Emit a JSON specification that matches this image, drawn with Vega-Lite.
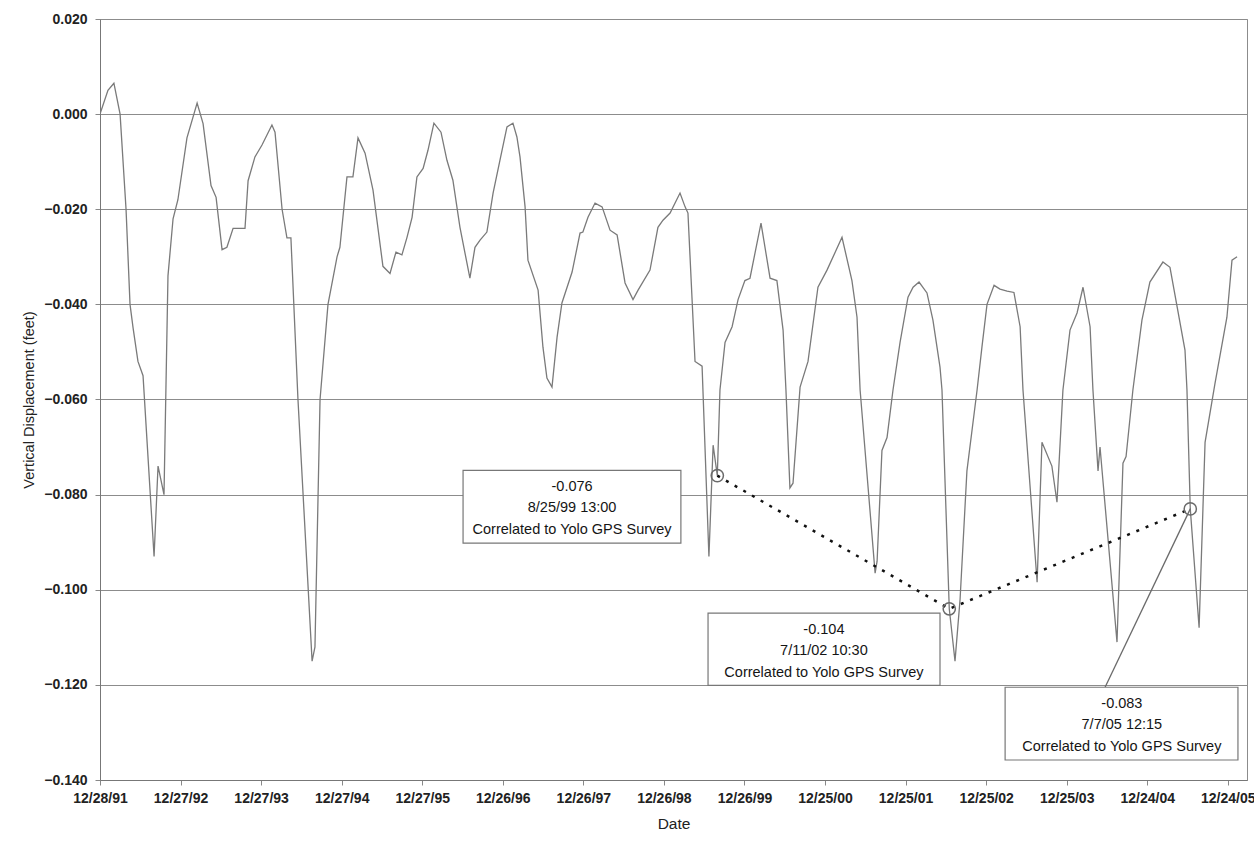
{
  "$schema": "https://vega.github.io/schema/vega-lite/v6.json",
  "width": 1147,
  "height": 761,
  "autosize": {"type": "none"},
  "padding": {"left": 100, "top": 19, "right": 7, "bottom": 61},
  "background": "white",
  "config": {
    "font": "Liberation Sans",
    "view": {"stroke": "#8c8c8c", "strokeWidth": 1}
  },
  "datasets": {
    "main": [
      {"d": "1991-12-28", "v": 0.000},
      {"d": "1992-02-02", "v": 0.005},
      {"d": "1992-02-29", "v": 0.0065},
      {"d": "1992-03-28", "v": 0.000},
      {"d": "1992-04-24", "v": -0.020},
      {"d": "1992-05-12", "v": -0.040},
      {"d": "1992-05-26", "v": -0.045},
      {"d": "1992-06-17", "v": -0.052},
      {"d": "1992-07-10", "v": -0.055},
      {"d": "1992-08-29", "v": -0.093},
      {"d": "1992-09-16", "v": -0.074},
      {"d": "1992-10-13", "v": -0.080},
      {"d": "1992-10-31", "v": -0.034},
      {"d": "1992-11-23", "v": -0.022},
      {"d": "1992-12-15", "v": -0.018},
      {"d": "1993-01-25", "v": -0.005},
      {"d": "1993-03-12", "v": 0.0023},
      {"d": "1993-04-08", "v": -0.002},
      {"d": "1993-05-14", "v": -0.015},
      {"d": "1993-06-06", "v": -0.0175},
      {"d": "1993-07-03", "v": -0.0285},
      {"d": "1993-07-25", "v": -0.028},
      {"d": "1993-08-22", "v": -0.024},
      {"d": "1993-10-15", "v": -0.024},
      {"d": "1993-10-29", "v": -0.014},
      {"d": "1993-11-29", "v": -0.009},
      {"d": "1993-12-31", "v": -0.0065},
      {"d": "1994-02-14", "v": -0.0023},
      {"d": "1994-02-28", "v": -0.0038},
      {"d": "1994-04-01", "v": -0.020},
      {"d": "1994-04-23", "v": -0.026},
      {"d": "1994-05-11", "v": -0.026},
      {"d": "1994-06-12", "v": -0.060},
      {"d": "1994-08-15", "v": -0.115},
      {"d": "1994-08-28", "v": -0.112},
      {"d": "1994-09-20", "v": -0.060},
      {"d": "1994-10-26", "v": -0.040},
      {"d": "1994-12-06", "v": -0.030},
      {"d": "1994-12-19", "v": -0.028},
      {"d": "1995-01-20", "v": -0.0132},
      {"d": "1995-02-16", "v": -0.0132},
      {"d": "1995-03-11", "v": -0.005},
      {"d": "1995-04-12", "v": -0.0082},
      {"d": "1995-05-18", "v": -0.016},
      {"d": "1995-07-02", "v": -0.032},
      {"d": "1995-08-03", "v": -0.0335},
      {"d": "1995-08-30", "v": -0.029},
      {"d": "1995-09-26", "v": -0.0296},
      {"d": "1995-10-19", "v": -0.0259},
      {"d": "1995-11-11", "v": -0.0217},
      {"d": "1995-12-03", "v": -0.0132},
      {"d": "1995-12-31", "v": -0.0114},
      {"d": "1996-01-22", "v": -0.0076},
      {"d": "1996-02-18", "v": -0.0019},
      {"d": "1996-03-21", "v": -0.0038},
      {"d": "1996-04-17", "v": -0.0097},
      {"d": "1996-05-14", "v": -0.0139},
      {"d": "1996-06-15", "v": -0.0238},
      {"d": "1996-07-30", "v": -0.0345},
      {"d": "1996-08-22", "v": -0.028},
      {"d": "1996-09-14", "v": -0.0265},
      {"d": "1996-10-15", "v": -0.0248},
      {"d": "1996-11-12", "v": -0.0166},
      {"d": "1996-12-13", "v": -0.0097},
      {"d": "1997-01-14", "v": -0.0027},
      {"d": "1997-02-10", "v": -0.0019},
      {"d": "1997-02-28", "v": -0.0048},
      {"d": "1997-03-14", "v": -0.009},
      {"d": "1997-04-06", "v": -0.0195},
      {"d": "1997-04-19", "v": -0.0307},
      {"d": "1997-06-04", "v": -0.037},
      {"d": "1997-06-26", "v": -0.049},
      {"d": "1997-07-14", "v": -0.0555},
      {"d": "1997-08-06", "v": -0.0574},
      {"d": "1997-08-29", "v": -0.0469},
      {"d": "1997-09-20", "v": -0.0397},
      {"d": "1997-11-05", "v": -0.0332},
      {"d": "1997-12-11", "v": -0.025},
      {"d": "1997-12-24", "v": -0.0248},
      {"d": "1998-01-16", "v": -0.0217},
      {"d": "1998-02-17", "v": -0.0187},
      {"d": "1998-03-21", "v": -0.0195},
      {"d": "1998-04-26", "v": -0.0244},
      {"d": "1998-05-28", "v": -0.0254},
      {"d": "1998-07-03", "v": -0.0355},
      {"d": "1998-08-08", "v": -0.039},
      {"d": "1998-08-31", "v": -0.037},
      {"d": "1998-10-24", "v": -0.0328},
      {"d": "1998-11-29", "v": -0.0238},
      {"d": "1998-12-22", "v": -0.0223},
      {"d": "1999-01-23", "v": -0.0208},
      {"d": "1999-03-09", "v": -0.0166},
      {"d": "1999-04-01", "v": -0.0195},
      {"d": "1999-04-14", "v": -0.0208},
      {"d": "1999-05-16", "v": -0.052},
      {"d": "1999-06-17", "v": -0.053},
      {"d": "1999-07-18", "v": -0.093},
      {"d": "1999-08-06", "v": -0.0696},
      {"d": "1999-08-25", "v": -0.076},
      {"d": "1999-09-06", "v": -0.058},
      {"d": "1999-09-29", "v": -0.048},
      {"d": "1999-10-31", "v": -0.0447},
      {"d": "1999-11-27", "v": -0.039},
      {"d": "1999-12-28", "v": -0.035},
      {"d": "2000-01-20", "v": -0.0345},
      {"d": "2000-03-10", "v": -0.0229},
      {"d": "2000-04-20", "v": -0.0345},
      {"d": "2000-05-21", "v": -0.035},
      {"d": "2000-06-18", "v": -0.0454},
      {"d": "2000-07-01", "v": -0.058},
      {"d": "2000-07-19", "v": -0.0786},
      {"d": "2000-08-02", "v": -0.0776},
      {"d": "2000-09-03", "v": -0.0574},
      {"d": "2000-10-09", "v": -0.052},
      {"d": "2000-11-23", "v": -0.0364},
      {"d": "2001-01-03", "v": -0.0328},
      {"d": "2001-03-12", "v": -0.0259},
      {"d": "2001-04-26", "v": -0.035},
      {"d": "2001-05-19", "v": -0.0427},
      {"d": "2001-06-02", "v": -0.058},
      {"d": "2001-08-09", "v": -0.0965},
      {"d": "2001-08-18", "v": -0.094},
      {"d": "2001-09-09", "v": -0.0707},
      {"d": "2001-10-02", "v": -0.068},
      {"d": "2001-10-29", "v": -0.058},
      {"d": "2001-11-30", "v": -0.048},
      {"d": "2002-01-05", "v": -0.0385},
      {"d": "2002-01-28", "v": -0.0364},
      {"d": "2002-02-24", "v": -0.0353},
      {"d": "2002-04-01", "v": -0.0376},
      {"d": "2002-04-28", "v": -0.0433},
      {"d": "2002-05-30", "v": -0.0532},
      {"d": "2002-06-08", "v": -0.058},
      {"d": "2002-07-11", "v": -0.104},
      {"d": "2002-08-06", "v": -0.115},
      {"d": "2002-08-29", "v": -0.102},
      {"d": "2002-09-29", "v": -0.075},
      {"d": "2002-11-14", "v": -0.058},
      {"d": "2002-12-06", "v": -0.049},
      {"d": "2002-12-29", "v": -0.040},
      {"d": "2003-01-30", "v": -0.036},
      {"d": "2003-02-26", "v": -0.0368},
      {"d": "2003-03-30", "v": -0.0372},
      {"d": "2003-04-30", "v": -0.0375},
      {"d": "2003-05-28", "v": -0.0447},
      {"d": "2003-06-10", "v": -0.058},
      {"d": "2003-08-13", "v": -0.0984},
      {"d": "2003-09-04", "v": -0.069},
      {"d": "2003-10-19", "v": -0.074},
      {"d": "2003-11-11", "v": -0.0816},
      {"d": "2003-12-08", "v": -0.058},
      {"d": "2004-01-09", "v": -0.0454},
      {"d": "2004-02-10", "v": -0.0418},
      {"d": "2004-03-08", "v": -0.0364},
      {"d": "2004-04-09", "v": -0.0447},
      {"d": "2004-04-22", "v": -0.058},
      {"d": "2004-05-15", "v": -0.075},
      {"d": "2004-05-24", "v": -0.070},
      {"d": "2004-08-09", "v": -0.111},
      {"d": "2004-09-05", "v": -0.0734},
      {"d": "2004-09-19", "v": -0.072},
      {"d": "2004-10-20", "v": -0.058},
      {"d": "2004-11-30", "v": -0.0433},
      {"d": "2005-01-05", "v": -0.0353},
      {"d": "2005-03-05", "v": -0.0311},
      {"d": "2005-04-06", "v": -0.0322},
      {"d": "2005-06-13", "v": -0.0496},
      {"d": "2005-06-22", "v": -0.058},
      {"d": "2005-07-07", "v": -0.083},
      {"d": "2005-08-16", "v": -0.108},
      {"d": "2005-09-12", "v": -0.069},
      {"d": "2005-10-27", "v": -0.0566},
      {"d": "2005-12-20", "v": -0.0427},
      {"d": "2006-01-12", "v": -0.0307},
      {"d": "2006-02-04", "v": -0.030}
    ],
    "pts": [
      {"d": "1999-08-25", "v": -0.076},
      {"d": "2002-07-11", "v": -0.104},
      {"d": "2005-07-07", "v": -0.083}
    ],
    "boxes": [
      {"d": "1996-06-29", "d2": "1999-03-13", "v": -0.0749, "v2": -0.0902},
      {"d": "1999-07-14", "d2": "2002-05-30", "v": -0.1049, "v2": -0.1201},
      {"d": "2003-03-21", "d2": "2006-02-08", "v": -0.1205, "v2": -0.1358}
    ],
    "notes": [
      {"d": "1997-11-05", "v": -0.0826, "t": "-0.076\n8/25/99 13:00\nCorrelated to Yolo GPS Survey"},
      {"d": "2000-12-20", "v": -0.1126, "t": "-0.104\n7/11/02 10:30\nCorrelated to Yolo GPS Survey"},
      {"d": "2004-08-31", "v": -0.1282, "t": "-0.083\n7/7/05 12:15\nCorrelated to Yolo GPS Survey"}
    ],
    "leader": [
      {"d": "2005-07-07", "v": -0.083, "d2": "2004-06-16", "v2": -0.1205}
    ]
  },
  "encoding": {
    "x": {
      "field": "d",
      "type": "temporal",
      "scale": {
        "type": "utc",
        "domain": [
          {"year": 1991, "month": 12, "date": 28, "utc": true},
          {"year": 2006, "month": 3, "date": 21, "utc": true}
        ],
        "nice": false
      },
      "axis": {
        "title": "Date",
        "values": [
          {"year": 1991, "month": 12, "date": 28, "utc": true},
          {"year": 1992, "month": 12, "date": 27, "utc": true},
          {"year": 1993, "month": 12, "date": 27, "utc": true},
          {"year": 1994, "month": 12, "date": 27, "utc": true},
          {"year": 1995, "month": 12, "date": 27, "utc": true},
          {"year": 1996, "month": 12, "date": 26, "utc": true},
          {"year": 1997, "month": 12, "date": 26, "utc": true},
          {"year": 1998, "month": 12, "date": 26, "utc": true},
          {"year": 1999, "month": 12, "date": 26, "utc": true},
          {"year": 2000, "month": 12, "date": 25, "utc": true},
          {"year": 2001, "month": 12, "date": 25, "utc": true},
          {"year": 2002, "month": 12, "date": 25, "utc": true},
          {"year": 2003, "month": 12, "date": 25, "utc": true},
          {"year": 2004, "month": 12, "date": 24, "utc": true},
          {"year": 2005, "month": 12, "date": 24, "utc": true}
        ],
        "labelExpr": "utcFormat(datum.value, '%m/%d/%y')",
        "grid": false,
        "labelFlush": false,
        "labelOverlap": false,
        "labelBound": false,
        "tickSize": 5,
        "tickColor": "#888888",
        "domainColor": "#777777",
        "labelFont": "Liberation Sans",
        "labelFontSize": 14,
        "labelFontWeight": "bold",
        "labelColor": "#222222",
        "labelPadding": 6,
        "titleFont": "Liberation Sans",
        "titleFontSize": 15.5,
        "titleFontWeight": "normal",
        "titleColor": "#222222",
        "titlePadding": 11
      }
    },
    "y": {
      "field": "v",
      "type": "quantitative",
      "scale": {"domain": [-0.14, 0.02], "nice": false, "zero": false},
      "axis": {
        "title": "Vertical Displacement (feet)",
        "values": [-0.14, -0.12, -0.1, -0.08, -0.06, -0.04, -0.02, 0, 0.02],
        "format": ".3f",
        "grid": true,
        "gridColor": "#8c8c8c",
        "gridWidth": 1,
        "tickSize": 5,
        "tickColor": "#888888",
        "domainColor": "#777777",
        "labelFont": "Liberation Sans",
        "labelFontSize": 14,
        "labelFontWeight": "bold",
        "labelColor": "#222222",
        "labelPadding": 8,
        "titleFont": "Liberation Sans",
        "titleFontSize": 14.5,
        "titleFontWeight": "normal",
        "titleColor": "#222222",
        "titlePadding": 7
      }
    }
  },
  "layer": [
    {
      "data": {"name": "main"},
      "mark": {"type": "line", "color": "#7a7a7a", "strokeWidth": 1.3, "clip": true},
      "encoding": {}
    },
    {
      "data": {"name": "pts"},
      "mark": {"type": "line", "color": "#111111", "strokeWidth": 2.5, "strokeDash": [3, 7]},
      "encoding": {}
    },
    {
      "data": {"name": "leader"},
      "mark": {"type": "rule", "color": "#6a6a6a", "strokeWidth": 1.3},
      "encoding": {"x2": {"field": "d2"}, "y2": {"field": "v2"}}
    },
    {
      "data": {"name": "pts"},
      "mark": {"type": "point", "shape": "circle", "filled": true, "fill": "white", "fillOpacity": 0, "stroke": "#6a6a6a", "strokeWidth": 1.5, "size": 150, "opacity": 1},
      "encoding": {}
    },
    {
      "data": {"name": "boxes"},
      "mark": {"type": "rect", "fill": "white", "stroke": "#777777", "strokeWidth": 1.2},
      "encoding": {"x2": {"field": "d2"}, "y2": {"field": "v2"}}
    },
    {
      "data": {"name": "notes"},
      "mark": {"type": "text", "font": "Liberation Sans", "fontSize": 14.5, "lineBreak": "\n", "lineHeight": 21.5, "dy": -20, "align": "center", "baseline": "middle", "color": "#151515"},
      "encoding": {"text": {"field": "t"}}
    }
  ]
}
